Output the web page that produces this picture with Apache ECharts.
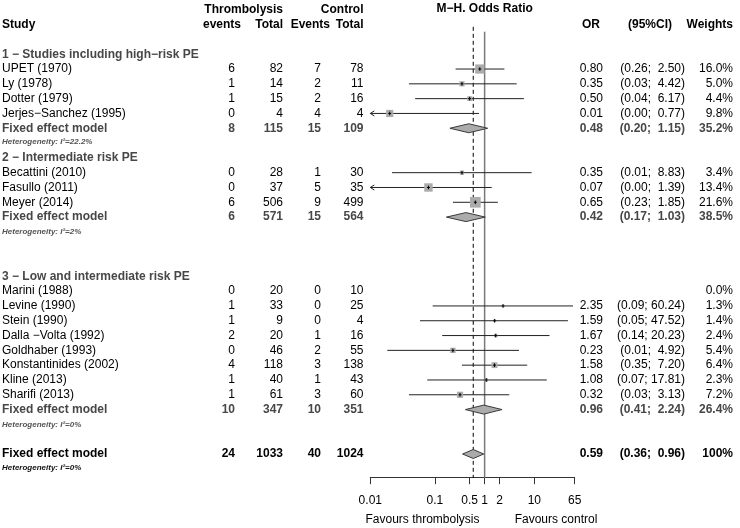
<!DOCTYPE html>
<html><head><meta charset="utf-8">
<script src="https://cdn.jsdelivr.net/npm/echarts@6/dist/echarts.min.js"></script>
<style>html,body{margin:0;padding:0;background:#fff}#c{width:740px;height:528px}</style>
</head><body><div id="c"></div>
<script>
// ---------------- data ----------------
const studies = ['UPET (1970)', 'Ly (1978)', 'Dotter (1979)', 'Jerjes\u2212Sanchez (1995)',
  'Becattini (2010)', 'Fasullo (2011)', 'Meyer (2014)',
  'Marini (1988)', 'Levine (1990)', 'Stein (1990)', 'Dalla \u2212Volta (1992)', 'Goldhaber (1993)',
  'Konstantinides (2002)', 'Kline (2013)', 'Sharifi (2013)'];
const studyGroup = [0,0,0,0, 1,1,1, 2,2,2,2,2,2,2,2];
const trtEvents  = [6,1,1,0, 0,0,6, 0,1,1,2,0,4,1,1];
const trtTotal   = [82,14,15,4, 28,37,506, 20,33,9,20,46,118,40,61];
const ctrlEvents = [7,2,2,4, 1,5,9, 0,0,0,1,2,3,1,3];
const ctrlTotal  = [78,11,16,4, 30,35,499, 10,25,4,16,55,138,43,60];
const oddsRatio  = [0.80,0.35,0.50,0.0123, 0.35,0.074,0.65, null,2.35,1.59,1.67,0.23,1.58,1.08,0.32];
const ciLower    = [0.26,0.03,0.04,0.0003, 0.0137,0.0004,0.23, null,0.09,0.05,0.14,0.011,0.35,0.07,0.03];
const ciUpper    = [2.50,4.42,6.17,0.77, 8.83,1.39,1.85, null,60.24,47.52,20.23,4.92,7.20,17.81,3.13];
const weights    = [16.0,5.0,4.4,9.8, 3.4,13.4,21.6, 0.0,1.3,1.4,2.4,5.4,6.4,2.3,7.2];

const groupTitles     = ['1 \u2212 Studies including high\u2212risk PE', '2 \u2212 Intermediate risk PE', '3 \u2212 Low and intermediate risk PE'];
const groupTrtEvents  = [8, 6, 10];
const groupTrtTotal   = [115, 571, 347];
const groupCtrlEvents = [15, 15, 10];
const groupCtrlTotal  = [109, 564, 351];
const groupOR         = [0.48, 0.42, 0.96];
const groupLower      = [0.20, 0.17, 0.41];
const groupUpper      = [1.15, 1.03, 2.24];
const groupWeight     = [35.2, 38.5, 26.4];
const groupI2         = ['22.2%', '2%', '0%'];

const overallTrtEvents = 24, overallTrtTotal = 1033, overallCtrlEvents = 40, overallCtrlTotal = 1024;
const overallOR = 0.59, overallLower = 0.36, overallUpper = 0.96, overallWeight = '100%', overallI2 = '0%';

const tickValues = [0.005, 0.1, 0.5, 1, 2, 10, 65];
const tickLabels = ['0.01', '0.1', '0.5', '1', '2', '10', '65'];

// ---------------- layout ----------------
const FONT = '"Liberation Sans", Arial, Helvetica, sans-serif';
const F_REG = '12px ' + FONT, F_BOLD = 'bold 12px ' + FONT, F_HET = 'italic bold 8px ' + FONT;
const C_SUB = '#474747', C_HET = '#555555';
const X = { study: 2, te: 235, tt: 283, ce: 321, ct: 363.5, or: 603, ci: 685, w: 733 };
const GROUP_HEAD_ROW = [3, 10, 18];
const HET_OFFSET = [0.9, 1.0, 1.0];
const OVERALL_ROW = 30, OVERALL_HET_OFFSET = 0.9;
const Y_MAX = 31.6;

function fmtCI(lo, hi) {
  const h = hi.toFixed(2);
  return '(' + lo.toFixed(2) + ';' + (h.length < 5 ? '  ' : ' ') + h + ')';
}

const tableRows = [];
const forestItems = []; // [row, est, lo, hi, weight, kind]
tableRows.push({ row: 0, cells: [
  { text: 'Thrombolysis', x: X.tt, align: 'right', font: F_BOLD },
  { text: 'Control', x: X.ct, align: 'right', font: F_BOLD },
  { text: 'M\u2212H. Odds Ratio', xv: 1, align: 'center', font: F_BOLD, dy: -1.5 }
]});
tableRows.push({ row: 1, cells: [
  { text: 'Study', x: X.study, align: 'left', font: F_BOLD },
  { text: 'events', x: 241, align: 'right', font: F_BOLD },
  { text: 'Total', x: X.tt, align: 'right', font: F_BOLD },
  { text: 'Events', x: 330, align: 'right', font: F_BOLD },
  { text: 'Total', x: X.ct, align: 'right', font: F_BOLD },
  { text: 'OR', x: 600, align: 'right', font: F_BOLD },
  { text: '(95%CI)', x: 672, align: 'right', font: F_BOLD },
  { text: 'Weights', x: X.w, align: 'right', font: F_BOLD }
]});

groupTitles.forEach((title, g) => {
  let row = GROUP_HEAD_ROW[g];
  tableRows.push({ row, cells: [{ text: title, x: X.study, align: 'left', font: F_BOLD, color: C_SUB }] });
  studies.forEach((s, i) => {
    if (studyGroup[i] !== g) return;
    row++;
    const cells = [
      { text: s, x: X.study, align: 'left', font: F_REG },
      { text: String(trtEvents[i]), x: X.te, align: 'right', font: F_REG },
      { text: String(trtTotal[i]), x: X.tt, align: 'right', font: F_REG },
      { text: String(ctrlEvents[i]), x: X.ce, align: 'right', font: F_REG },
      { text: String(ctrlTotal[i]), x: X.ct, align: 'right', font: F_REG },
      { text: weights[i].toFixed(1) + '%', x: X.w, align: 'right', font: F_REG }
    ];
    if (oddsRatio[i] != null) {
      cells.push({ text: oddsRatio[i].toFixed(2), x: X.or, align: 'right', font: F_REG });
      cells.push({ text: fmtCI(ciLower[i], ciUpper[i]), x: X.ci, align: 'right', font: F_REG });
      forestItems.push([row, oddsRatio[i], ciLower[i], ciUpper[i], weights[i], 0]);
    }
    tableRows.push({ row, cells });
  });
  row++;
  tableRows.push({ row, cells: [
    { text: 'Fixed effect model', x: X.study, align: 'left', font: F_BOLD, color: C_SUB },
    { text: String(groupTrtEvents[g]), x: X.te, align: 'right', font: F_BOLD, color: C_SUB },
    { text: String(groupTrtTotal[g]), x: X.tt, align: 'right', font: F_BOLD, color: C_SUB },
    { text: String(groupCtrlEvents[g]), x: X.ce, align: 'right', font: F_BOLD, color: C_SUB },
    { text: String(groupCtrlTotal[g]), x: X.ct, align: 'right', font: F_BOLD, color: C_SUB },
    { text: groupOR[g].toFixed(2), x: X.or, align: 'right', font: F_BOLD, color: C_SUB },
    { text: fmtCI(groupLower[g], groupUpper[g]), x: X.ci, align: 'right', font: F_BOLD, color: C_SUB },
    { text: groupWeight[g].toFixed(1) + '%', x: X.w, align: 'right', font: F_BOLD, color: C_SUB }
  ]});
  forestItems.push([row, groupOR[g], groupLower[g], groupUpper[g], groupWeight[g], 1]);
  tableRows.push({ row: row + HET_OFFSET[g], cells: [
    { text: 'Heterogeneity: I\u00b2=' + groupI2[g], x: X.study, align: 'left', font: F_HET, color: C_HET }
  ]});
});

tableRows.push({ row: OVERALL_ROW, cells: [
  { text: 'Fixed effect model', x: X.study, align: 'left', font: F_BOLD },
  { text: String(overallTrtEvents), x: X.te, align: 'right', font: F_BOLD },
  { text: String(overallTrtTotal), x: X.tt, align: 'right', font: F_BOLD },
  { text: String(overallCtrlEvents), x: X.ce, align: 'right', font: F_BOLD },
  { text: String(overallCtrlTotal), x: X.ct, align: 'right', font: F_BOLD },
  { text: overallOR.toFixed(2), x: X.or, align: 'right', font: F_BOLD },
  { text: fmtCI(overallLower, overallUpper), x: X.ci, align: 'right', font: F_BOLD },
  { text: overallWeight, x: X.w, align: 'right', font: F_BOLD }
]});
tableRows.push({ row: OVERALL_ROW + OVERALL_HET_OFFSET, cells: [
  { text: 'Heterogeneity: I\u00b2=' + overallI2, x: X.study, align: 'left', font: F_HET, color: '#111' }
]});
forestItems.push([OVERALL_ROW, overallOR, overallLower, overallUpper, 100, 2]);

// reference lines: [value, topRow, dashed]
const refLines = [[1, 1.48, 0], [overallOR, 1.15, 1]];

// ---------------- render ----------------
function renderTable(params, api) {
  const item = tableRows[api.value(2)];
  const y = api.coord([1, item.row])[1];
  return {
    type: 'group',
    children: item.cells.map(c => ({
      type: 'text',
      x: c.xv != null ? api.coord([c.xv, item.row])[0] : c.x,
      y: y + (c.dy || 0),
      style: { text: c.text, font: c.font, fill: c.color || '#000', align: c.align, verticalAlign: 'middle' }
    }))
  };
}

function renderForest(params, api) {
  const row = api.value(0), est = api.value(1), lo = api.value(2), hi = api.value(3), w = api.value(4), kind = api.value(5);
  const cs = params.coordSys;
  const xMin = cs.x, xMax = cs.x + cs.width;
  const y = api.coord([1, row])[1];
  const xe = api.coord([est, row])[0];
  const xl = api.coord([lo, row])[0];
  const xh = api.coord([hi, row])[0];
  const children = [];
  if (kind === 0) {
    const a = Math.max(xl, xMin), b = Math.min(xh, xMax);
    children.push({ type: 'line', shape: { x1: a, y1: y, x2: b, y2: y }, style: { stroke: '#222', lineWidth: 1 } });
    if (xl < xMin) {
      children.push({ type: 'polyline', shape: { points: [[xMin + 4, y - 2.5], [xMin, y], [xMin + 4, y + 2.5]] },
        style: { stroke: '#222', fill: null, lineWidth: 1 } });
    }
    const s = 2.3 * Math.sqrt(w);
    children.push({ type: 'rect', shape: { x: xe - s / 2, y: y - s / 2, width: s, height: s }, style: { fill: '#ababab' } });
    children.push({ type: 'line', shape: { x1: xe, y1: y - 1.8, x2: xe, y2: y + 1.8 }, style: { stroke: '#000', lineWidth: 1 } });
    children.push({ type: 'line', shape: { x1: xe - 1.5, y1: y, x2: xe + 1.5, y2: y }, style: { stroke: '#000', lineWidth: 1 } });
  } else {
    children.push({ type: 'polygon', shape: { points: [[xl, y], [xe, y - 4.5], [xh, y], [xe, y + 4.5]] },
      style: { fill: '#ababab', stroke: '#3a3a3a', lineWidth: 1 } });
  }
  return { type: 'group', children };
}

function renderRef(params, api) {
  const v = api.value(0), top = api.value(1), dashed = api.value(2);
  const p1 = api.coord([v, top]);
  const p2 = api.coord([v, Y_MAX]);
  return {
    type: 'line',
    shape: { x1: p1[0], y1: p1[1], x2: p2[0], y2: p2[1] },
    style: dashed ? { stroke: '#000', lineWidth: 1, lineDash: [4, 3] } : { stroke: '#7a7a7a', lineWidth: 1.5 }
  };
}

function tickLabel(v) {
  let best = 0, bd = Infinity;
  tickValues.forEach((t, i) => { const d = Math.abs(Math.log10(t) - Math.log10(v)); if (d < bd) { bd = d; best = i; } });
  return tickLabels[best];
}

const chart = echarts.init(document.getElementById('c'), null, { renderer: 'canvas' });
chart.setOption({
  animation: false,
  backgroundColor: '#fff',
  grid: { left: 370.3, right: 165.3, top: 9.8, height: 467.9 },
  xAxis: {
    type: 'log', logBase: 10, min: tickValues[0], max: tickValues[tickValues.length - 1],
    position: 'bottom',
    axisLine: { show: true, onZero: false, lineStyle: { color: '#333', width: 1 } },
    axisTick: { show: true, length: 6.5, customValues: tickValues, lineStyle: { color: '#333', width: 1 } },
    axisLabel: { customValues: tickValues, formatter: tickLabel, margin: 17, fontSize: 12, fontFamily: FONT, color: '#000', showMinLabel: true, showMaxLabel: true, hideOverlap: false },
    splitLine: { show: false },
    minorTick: { show: false }
  },
  yAxis: { type: 'value', inverse: true, min: 0, max: Y_MAX, show: false, splitLine: { show: false } },
  graphic: [
    { type: 'text', x: 422.5, y: 520, style: { text: 'Favours thrombolysis', font: F_REG, fill: '#000', align: 'center', verticalAlign: 'middle' } },
    { type: 'text', x: 556, y: 520, style: { text: 'Favours control', font: F_REG, fill: '#000', align: 'center', verticalAlign: 'middle' } }
  ],
  series: [
    { type: 'custom', name: 'ref', renderItem: renderRef, data: refLines, encode: { x: 0, y: 1 }, silent: true, z: 1 },
    { type: 'custom', name: 'forest', renderItem: renderForest, data: forestItems, encode: { x: 1, y: 0 }, silent: true, z: 3 },
    { type: 'custom', name: 'table', renderItem: renderTable, data: tableRows.map((t, i) => [1, t.row, i]), encode: { x: 0, y: 1 }, silent: true, z: 4 }
  ]
});
</script>
</body></html>
